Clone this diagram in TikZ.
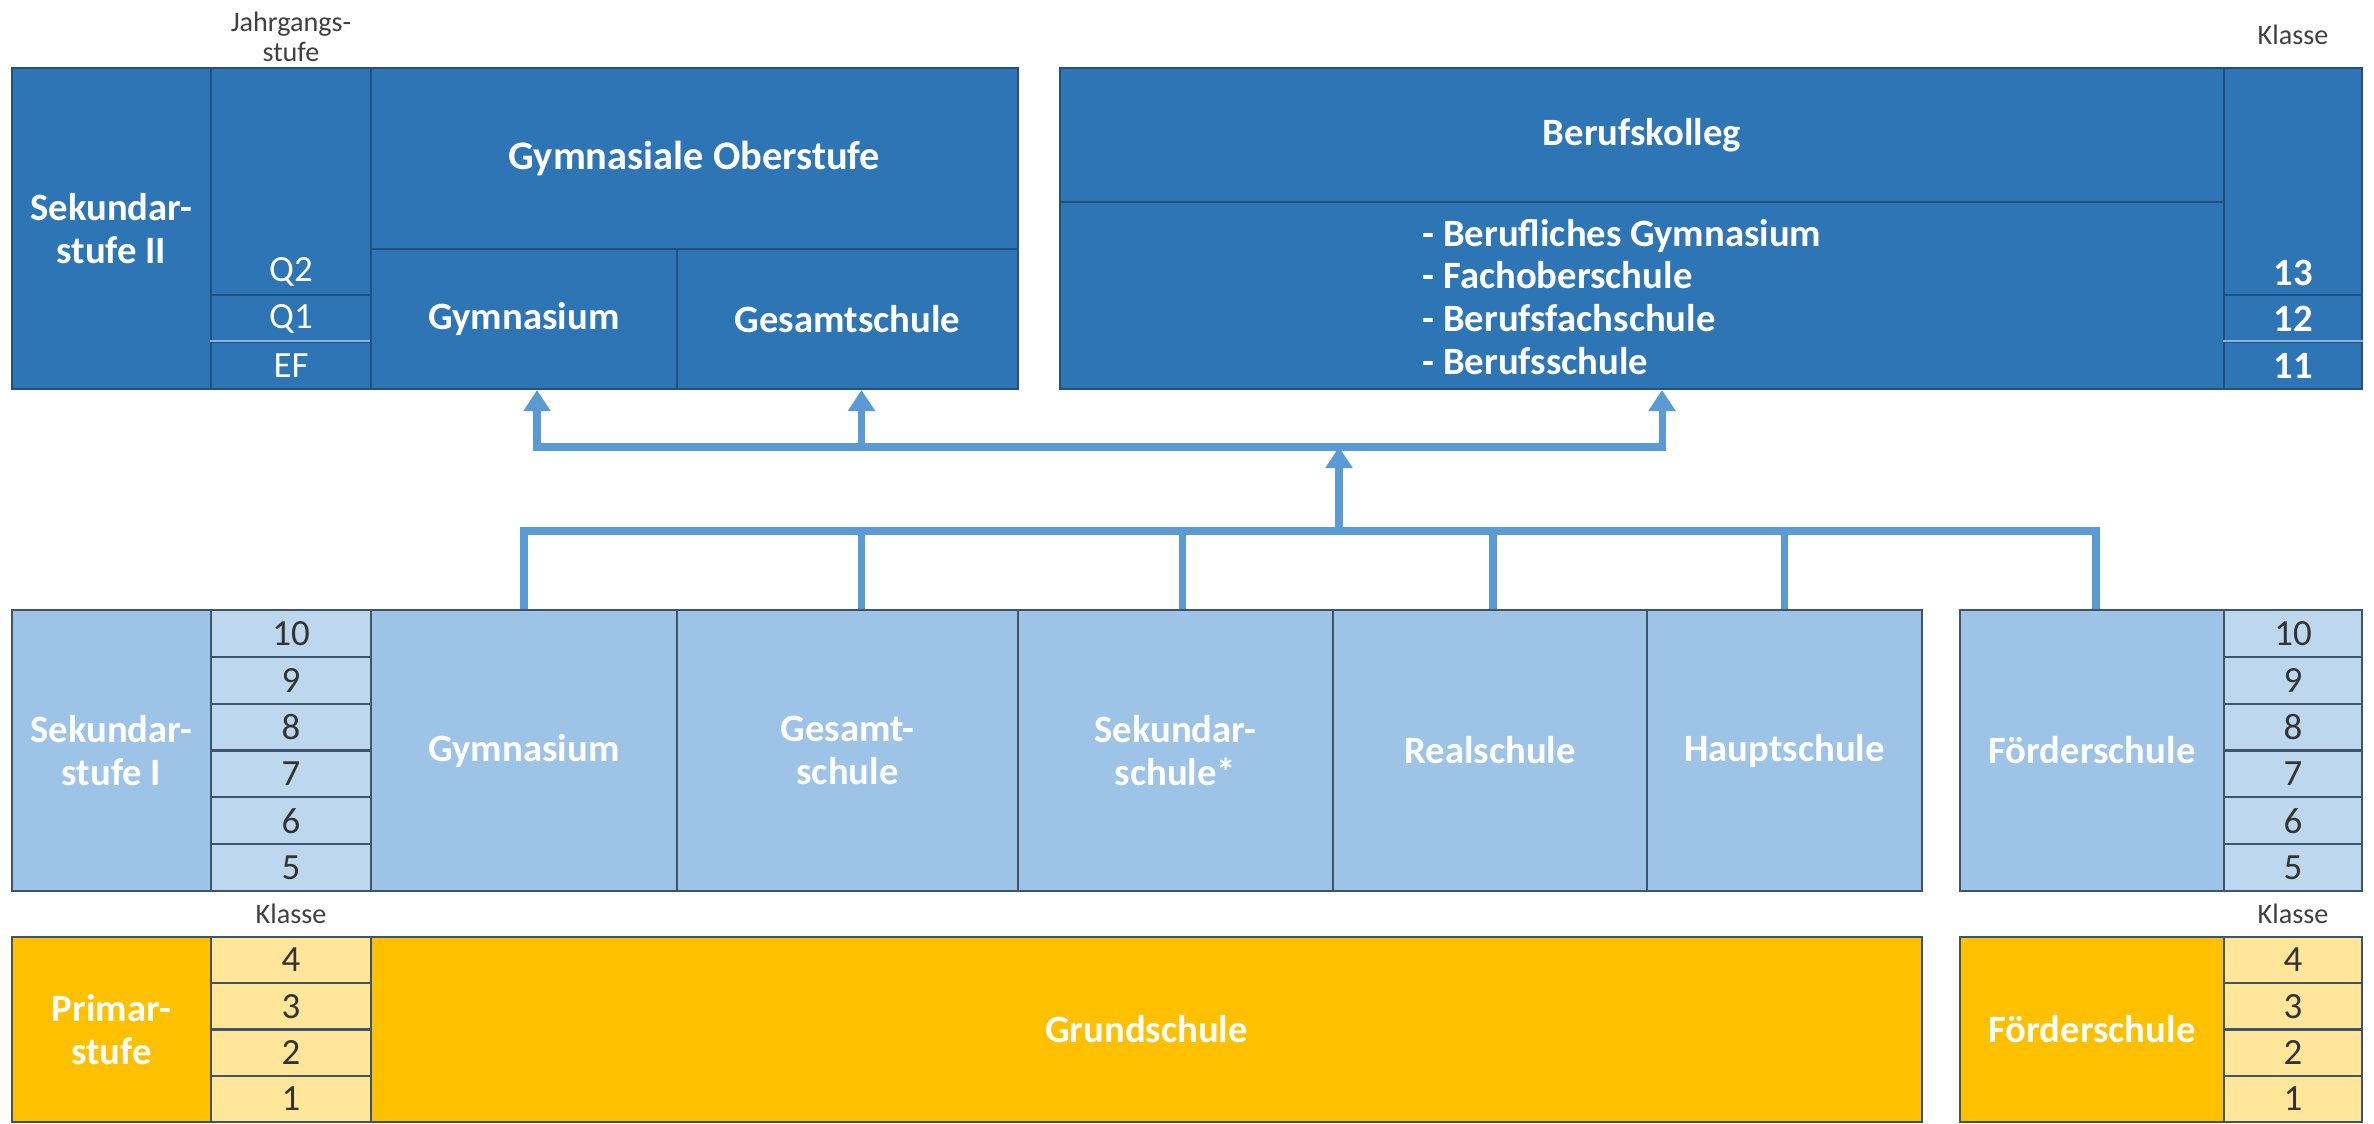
\documentclass[tikz,border=0pt]{standalone}
\usepackage{fontspec}
\setmainfont{Carlito}
\usetikzlibrary{arrows.meta, positioning}

\definecolor{dunkelblau}{RGB}{46,117,182}
\definecolor{randblau}{RGB}{36,80,126}
\definecolor{trennblau}{RGB}{140,180,220}
\definecolor{hellblau}{RGB}{157,195,230}
\definecolor{zellblau}{RGB}{189,215,238}
\definecolor{gelb}{RGB}{255,192,0}
\definecolor{zellgelb}{RGB}{255,230,153}
\definecolor{randgrau}{RGB}{62,84,106}
\definecolor{pfeilblau}{RGB}{91,155,213}

\begin{document}
\begin{tikzpicture}[x=0.01cm, y=-0.01cm,
    sz/.style 2 args={minimum width=#1*0.01cm, minimum height=#2*0.01cm},
    box/.style={rectangle, inner sep=0pt, line width=0.6pt, align=center, text=white,
      font=\fontsize{11}{12.2}\selectfont\bfseries},
    oben/.style={box, fill=dunkelblau, draw=randblau},
    mitte/.style={box, fill=hellblau, draw=randgrau},
    unten/.style={box, fill=gelb, draw=randgrau},
    zahl/.style={box, draw=randgrau, text=black!80, font=\fontsize{10.5}{12}\selectfont},
    stufe/.style={text=white, inner sep=0pt, font=\fontsize{10.5}{12}\selectfont},
    hinweis/.style={align=center, inner sep=0pt, text=black!75, font=\fontsize{8}{8.6}\selectfont},
    leitung/.style={draw=pfeilblau, line width=2pt},
    pfeil/.style={leitung, -{Triangle[width=0.26cm, length=0.21cm]}}
  ]
  \useasboundingbox (0,0) rectangle (2374,1124);

  % Sekundarstufe II
  \node[oben, sz={199}{321}] (sek2) at (111.5,228.5) {Sekundar-\\stufe II};
  \node[oben, sz={160}{227}] (jgs) at (291,181.5) {};
  \node[oben, sz={160}{47}] (q1) at (291,318.5) {};
  \node[oben, sz={160}{47}] (ef) at (291,365.5) {};
  \draw[trennblau, line width=0.6pt] (ef.north west) -- (ef.north east);
  \node[stufe] (q2text) at (291,272) {Q2};
  \node[stufe] (q1text) at (q1) {Q1};
  \node[stufe] (eftext) at (ef) {EF};
  \node[oben, sz={647}{181}, font=\fontsize{11.5}{13}\selectfont\bfseries] (gos) at (694.5,158.5) {Gymnasiale Oberstufe};
  \node[oben, sz={306}{140}] (gym2) at (524,319) {Gymnasium};
  \node[oben, sz={341}{140}] (ges2) at (847.5,319) {Gesamtschule};

  % Berufskolleg
  \node[oben, sz={1164}{134}] (bk) at (1642,135) {Berufskolleg};
  \node[oben, sz={1164}{187}] (bkbox) at (1642,295.5) {};
  \node[anchor=west, align=left, inner sep=0pt, text=white,
    font=\fontsize{11}{12.2}\selectfont\bfseries] (bkliste) at (1422,297)
    {- Berufliches Gymnasium\\- Fachoberschule\\- Berufsfachschule\\- Berufsschule};
  \node[oben, sz={138}{227}] (kl13) at (2293,181.5) {};
  \node[oben, sz={138}{47}] (kl12) at (2293,318.5) {12};
  \node[oben, sz={138}{47}] (kl11) at (2293,365.5) {11};
  \draw[trennblau, line width=0.6pt] (kl11.north west) -- (kl11.north east);
  \node[box] (k13text) at (2293,273) {13};

  % Beschriftungen
  \node[hinweis] (jgslabel) at (291,37) {Jahrgangs-\\stufe};
  \node[hinweis] (klasseoben) at (2293,35) {Klasse};
  \node[hinweis] (klasselinks) at (291,914) {Klasse};
  \node[hinweis] (klasserechts) at (2293,914) {Klasse};

  % Sekundarstufe I
  \node[mitte, sz={199}{281}] (sek1) at (111.5,750.5) {Sekundar-\\stufe I};
  \foreach \n [count=\i from 0] in {10,9,8,7,6,5} {
    \node[zahl, fill=zellblau, sz={160}{46.83}] (ks\n) at (291,{633.4+46.83*\i}) {\n};
    \node[zahl, fill=zellblau, sz={138}{46.83}] (kr\n) at (2293,{633.4+46.83*\i}) {\n};
  }
  \node[mitte, sz={306}{281}] (gym1) at (524,750.5) {Gymnasium};
  \node[mitte, sz={341}{281}] (ges1) at (847.5,750.5) {Gesamt-\\schule};
  \node[mitte, sz={315}{281}] (sks) at (1175.5,750.5) {Sekundar-\\schule*};
  \node[mitte, sz={314}{281}] (real) at (1490,750.5) {Realschule};
  \node[mitte, sz={275}{281}] (haupt) at (1784.5,750.5) {Hauptschule};
  \node[mitte, sz={264}{281}] (foe1) at (2092,750.5) {Förderschule};

  % Primarstufe
  \node[unten, sz={199}{185}] (prim) at (111.5,1029.5) {Primar-\\stufe};
  \foreach \n [count=\i from 0] in {4,3,2,1} {
    \node[zahl, fill=zellgelb, sz={160}{46.25}] (kp\n) at (291,{960.1+46.25*\i}) {\n};
    \node[zahl, fill=zellgelb, sz={138}{46.25}] (kq\n) at (2293,{960.1+46.25*\i}) {\n};
  }
  \node[unten, sz={1551}{185}] (grund) at (1146.5,1029.5) {Grundschule};
  \node[unten, sz={264}{185}] (foe2) at (2092,1029.5) {Förderschule};

  % Verbindungen
  \coordinate (sammel) at (1339,531);
  \coordinate (verteil) at (1339,447);
  \draw[leitung, line join=miter] (gym1.north) |- (sammel) -| ([xshift=0.04cm]foe1.north);
  \foreach \s/\d in {ges1/0.14, sks/0.07, real/0.03, haupt/0}
    \draw[leitung] ([xshift=\d cm]\s.north) -- ([xshift=\d cm]\s.north |- sammel);
  \draw[pfeil] (sammel) -- (verteil);
  \draw[leitung, line cap=rect] ([xshift=0.13cm]gym2.south |- verteil) -- ([xshift=0.2cm]bkbox.south |- verteil);
  \foreach \z/\d in {gym2/0.13, ges2/0.14, bkbox/0.2}
    \draw[pfeil] ([xshift=\d cm]\z.south |- verteil) -- ([xshift=\d cm]\z.south);

\end{tikzpicture}
\end{document}
